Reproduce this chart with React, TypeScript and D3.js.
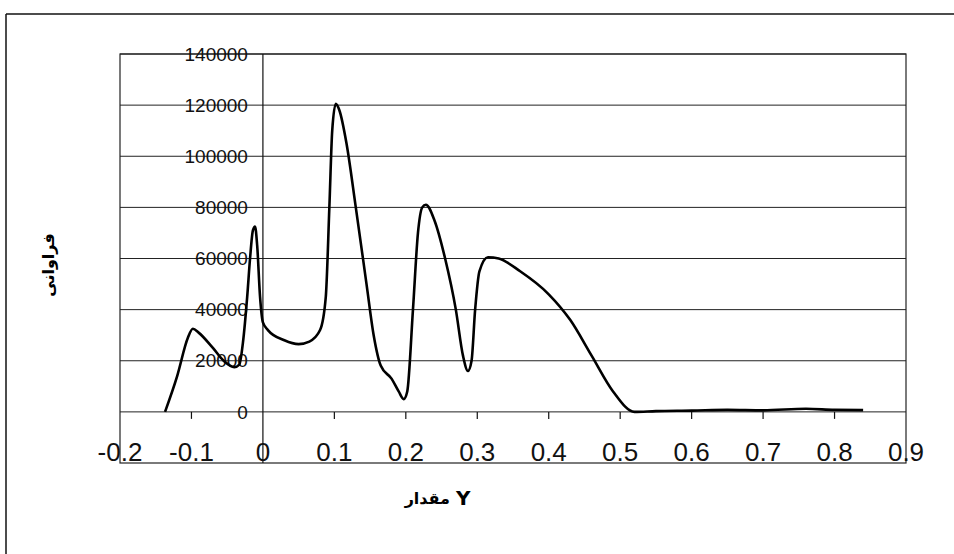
import React from "react";
import * as d3 from "d3";

const xTicks = [-0.2, -0.1, 0, 0.1, 0.2, 0.3, 0.4, 0.5, 0.6, 0.7, 0.8, 0.9];
const xTickLabels = ["-0.2", "-0.1", "0", "0.1", "0.2", "0.3", "0.4", "0.5", "0.6", "0.7", "0.8", "0.9"];
const yTicks = [0, 20000, 40000, 60000, 80000, 100000, 120000, 140000];
const yTickLabels = ["0", "20000", "40000", "60000", "80000", "100000", "120000", "140000"];

const xValues = [
  -0.137, -0.12, -0.105, -0.098, -0.09, -0.07, -0.055, -0.04, -0.033, -0.028, -0.022, -0.018, -0.014, -0.011,
  -0.008, -0.004, 0, 0.007, 0.03, 0.05, 0.065, 0.08, 0.088, 0.093, 0.097, 0.102, 0.107, 0.117, 0.13, 0.145,
  0.155, 0.165, 0.18, 0.19, 0.197, 0.202, 0.21, 0.217, 0.223, 0.228, 0.24, 0.255, 0.27, 0.28, 0.287, 0.292,
  0.297, 0.303, 0.315, 0.33, 0.36, 0.4, 0.43, 0.46, 0.49, 0.52, 0.55, 0.6, 0.65, 0.7, 0.76, 0.8, 0.84,
];
const freqValues = [
  0, 14000, 29000, 32500, 31000, 25000, 20000, 17500, 18500, 27000, 45000, 60000, 71000, 72500,
  65000, 45000, 35000, 32000, 28000, 26500, 27500, 32000, 45000, 80000, 110000, 120500, 118000, 105000, 80000, 50000,
  30000, 18000, 13000, 8000, 5000, 8000, 40000, 70000, 80000, 81000, 75000, 60000, 40000, 22000, 16000, 20000,
  40000, 55000, 60500, 60000, 55000, 46000, 36000, 22000, 8000, 0, 300, 500, 800, 600, 1200, 800, 700,
];

const yTitle = "فراوانی";
const xTitleWord = "مقدار";
const xTitleVar = "Y";

export default function App() {
  const W = 954;
  const H = 554;
  const left = 120;
  const right = 906;
  const top = 54;
  const bottom = 463;

  const x = d3.scaleLinear().domain([-0.2, 0.9]).range([left, right]);
  const y = d3.scaleLinear().domain([-20000, 140000]).range([bottom, top]);

  const pts: [number, number][] = xValues.map((v, i) => [v, freqValues[i]]);
  const line = d3
    .line<[number, number]>()
    .x((d) => x(d[0]))
    .y((d) => y(d[1]))
    .curve(d3.curveMonotoneX);

  const x0 = x(0);
  const y0 = y(0);

  return (
    <svg
      width={W}
      height={H}
      viewBox={`0 0 ${W} ${H}`}
      style={{ position: "absolute", left: 0, top: 0, background: "#fff" }}
    >
      <rect x={0} y={0} width={W} height={H} fill="#fff" />
      {/* outer frame */}
      <line x1={6} y1={14} x2={W} y2={14} stroke="#111" strokeWidth={1.5} />
      <line x1={6} y1={14} x2={6} y2={H} stroke="#111" strokeWidth={1.5} />

      {/* gridlines */}
      {yTicks.map((t) => (
        <line key={"g" + t} x1={left} x2={right} y1={y(t)} y2={y(t)} stroke="#222" strokeWidth={1} />
      ))}

      {/* plot box */}
      <rect x={left} y={top} width={right - left} height={bottom - top} fill="none" stroke="#222" strokeWidth={1.2} />

      {/* y axis at x=0 */}
      <line x1={x0} x2={x0} y1={top} y2={bottom} stroke="#111" strokeWidth={1.2} />
      {/* x axis ticks */}
      {xTicks.map((t) =>
        t === 0 || t === -0.2 || t === 0.9 ? null : (
          <line key={"t" + t} x1={x(t)} x2={x(t)} y1={y0} y2={y0 + 7} stroke="#111" strokeWidth={1.2} />
        )
      )}

      {/* y tick labels */}
      {yTicks.map((t, i) => (
        <text
          key={"yl" + t}
          x={x0 - 15}
          y={y(t)}
          dy="0.35em"
          textAnchor="end"
          fontFamily="'Liberation Sans', Arial, sans-serif"
          fontSize={19}
          fill="#111"
        >
          {yTickLabels[i]}
        </text>
      ))}

      {/* x tick labels */}
      {xTicks.map((t, i) => (
        <text
          key={"xl" + t}
          x={x(t)}
          y={461}
          textAnchor="middle"
          fontFamily="'Liberation Sans', Arial, sans-serif"
          fontSize={26}
          fill="#111"
        >
          {xTickLabels[i]}
        </text>
      ))}

      {/* curve */}
      <path d={line(pts) || ""} fill="none" stroke="#000" strokeWidth={2.6} strokeLinejoin="round" />

      {/* axis titles */}
      <text
        transform={`translate(48, 265) rotate(-90)`}
        textAnchor="middle"
        dy="0.35em"
        fontFamily="'DejaVu Sans', sans-serif"
        fontWeight="bold"
        fontSize={16}
        fill="#000"
      >
        {yTitle}
      </text>
      <text
        x={450}
        y={504}
        textAnchor="end"
        fontFamily="'DejaVu Sans', sans-serif"
        fontWeight="bold"
        fontSize={16}
        fill="#000"
      >
        {xTitleWord}
      </text>
      <text
        x={456}
        y={505}
        textAnchor="start"
        fontFamily="'DejaVu Sans', sans-serif"
        fontWeight="bold"
        fontSize={20}
        fill="#000"
      >
        {xTitleVar}
      </text>
    </svg>
  );
}
